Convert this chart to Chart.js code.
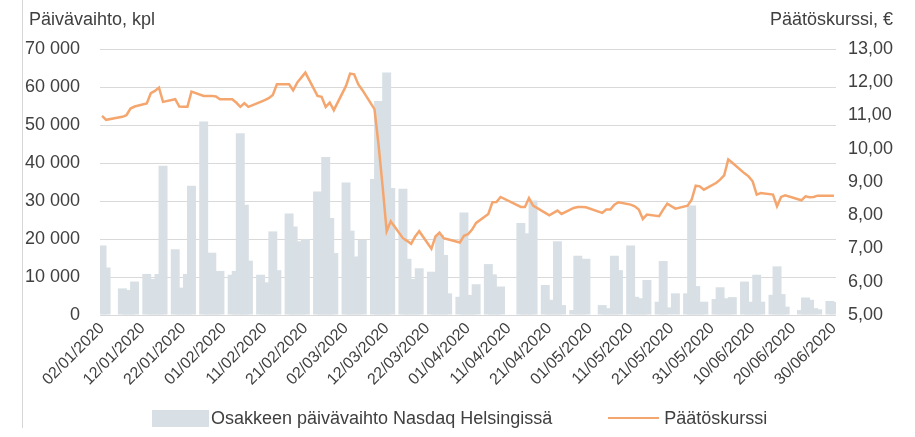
<!DOCTYPE html>
<html>
<head>
<meta charset="utf-8">
<script src="https://cdn.jsdelivr.net/npm/chart.js@4.4.0/dist/chart.umd.min.js"></script>
<style>
  body { margin: 0; background: #fff; }
  #wrap { position: relative; width: 915px; height: 437px; }
  .cap { position: absolute; top: 9px; font: 18px "Liberation Sans", Arial, sans-serif; color: #404040; white-space: nowrap; }
  #edge { position: absolute; left: 22px; top: 0; width: 0; height: 428px; border-left: 1px solid #d6d6d6; }
  #legend { position: absolute; left: 152px; top: 408px; height: 20px; display: flex; align-items: center;
            font: 18px "Liberation Sans", Arial, sans-serif; color: #404040; white-space: nowrap; }
  #legend .box { width: 57px; height: 17px; margin-right: 2px; }
  #legend .ln { width: 51px; height: 0; border-top: 2.5px solid; margin-left: 56px; margin-right: 5px; }
</style>
</head>
<body>
<div id="wrap">
  <canvas id="chart" width="915" height="437"></canvas>
  <div id="edge"></div>
  <div class="cap" style="left:29px">Päivävaihto, kpl</div>
  <div class="cap" style="right:22px">Päätöskurssi, €</div>
  <div id="legend"></div>
</div>
<script>
// trading days (dd/mm, 2020) with volume and closing price
const tradeDates = [
  '02/01','03/01','07/01','08/01','09/01','10/01','13/01','14/01','15/01','16/01','17/01',
  '20/01','21/01','22/01','23/01','24/01','27/01','28/01','29/01','30/01','31/01',
  '03/02','04/02','05/02','06/02','07/02','10/02','11/02','12/02','13/02','14/02',
  '17/02','18/02','19/02','20/02','21/02','24/02','25/02','26/02','27/02','28/02',
  '02/03','03/03','04/03','05/03','06/03','09/03','10/03','11/03','12/03','13/03',
  '16/03','17/03','18/03','19/03','20/03','23/03','24/03','25/03','26/03','27/03',
  '30/03','31/03','01/04','02/04','03/04','06/04','07/04','08/04','09/04',
  '14/04','15/04','16/04','17/04','20/04','21/04','22/04','23/04','24/04',
  '27/04','28/04','29/04','30/04','04/05','05/05','06/05','07/05','08/05',
  '11/05','12/05','13/05','14/05','15/05','18/05','19/05','20/05','22/05',
  '25/05','26/05','27/05','28/05','29/05','01/06','02/06','03/06','04/06','05/06',
  '08/06','09/06','10/06','11/06','12/06','15/06','16/06','17/06','18/06',
  '22/06','23/06','24/06','25/06','26/06','29/06','30/06'
];

const volume = [
  18300, 12500, 7000, 6600, 6400, 8800, 10800, 9500, 9000, 10800, 39300,
  17300, 7200, 6500, 10800, 34000, 50900, 15000, 16400, 11000, 11600,
  10600, 11600, 47800, 29000, 14300, 10600, 8600, 8200, 22000, 11800,
  26700, 23300, 19400, 19000, 20000, 32500, 28000, 41600, 25500, 16300,
  34900, 22200, 15400, 15000, 19800, 35800, 56300, 45000, 63800, 33400,
  33200, 14800, 9500, 9000, 12300, 11400, 10000, 21100, 15800, 5700,
  4800, 27000, 5300, 5000, 8100, 13400, 10700, 7000, 7500,
  24200, 21500, 20000, 30100, 7900, 4000, 3500, 19400, 2600,
  1300, 15600, 14000, 14800, 2600, 1800, 1500, 15600, 11800,
  18300, 4800, 4400, 4000, 9200, 3500, 14200, 2000, 5700,
  5700, 28800, 7600, 3000, 3500, 4200, 7300, 4400, 4000, 4700,
  8800, 3500, 3000, 10600, 3500, 5300, 12800, 5500, 2200,
  1300, 4600, 4000, 1800, 1500, 3700, 3400
];

const closePrice = [
  10.99, 10.87, 10.96, 11.01, 11.21, 11.27, 11.36, 11.67, 11.74, 11.84, 11.41,
  11.49, 11.27, 11.26, 11.26, 11.72, 11.59, 11.59, 11.59, 11.57, 11.49,
  11.49, 11.39, 11.26, 11.37, 11.26, 11.41, 11.46, 11.52, 11.62, 11.94,
  11.94, 11.76, 11.99, 12.14, 12.29, 11.59, 11.56, 11.26, 11.39, 11.16,
  11.89, 12.26, 12.24, 11.94, 11.77, 11.19, 10.12, 8.87, 7.52, 7.82,
  7.31, 7.23, 7.14, 7.36, 7.52, 6.99, 7.36, 7.48, 7.31, 7.28,
  7.18, 7.38, 7.43, 7.57, 7.77, 8.04, 8.39, 8.40, 8.55,
  8.25, 8.25, 8.52, 8.29, 8.07, 8.00, 8.07, 8.14, 8.04,
  8.22, 8.25, 8.25, 8.24, 8.07, 8.17, 8.17, 8.32, 8.39,
  8.32, 8.27, 8.17, 7.89, 8.02, 7.97, 8.17, 8.35, 8.20,
  8.29, 8.47, 8.89, 8.87, 8.77, 8.97, 9.07, 9.20, 9.68, 9.58,
  9.26, 9.17, 9.02, 8.62, 8.67, 8.62, 8.27, 8.55, 8.60,
  8.45, 8.57, 8.54, 8.55, 8.59, 8.59, 8.59
];

const volumeTicks = [0, 10000, 20000, 30000, 40000, 50000, 60000, 70000];
const priceTicks = [5, 6, 7, 8, 9, 10, 11, 12, 13];

// calendar axis: every day, weekends and holidays left empty
function pad(n) {
    return String(n).padStart(2, '0');
}
let labels = [];
let volData = [];
let priceData = [];
for (let d = new Date(2020, 0, 2); d <= new Date(2020, 5, 30); d.setDate(d.getDate() + 1)) {
    let key = pad(d.getDate()) + '/' + pad(d.getMonth() + 1);
    labels.push(key + '/2020');
    let k = tradeDates.indexOf(key);
    volData.push(k >= 0 ? volume[k] : null);
    priceData.push(k >= 0 ? closePrice[k] : null);
}

const textColor = '#404040';
const fontFamily = '"Liberation Sans", Arial, sans-serif';

const ctx = document.getElementById('chart');
const myChart = new Chart(ctx, {
    data: {
        labels: labels,
        datasets: [{
            type: 'line',
            label: 'Päätöskurssi',
            data: priceData,
            yAxisID: 'y1',
            borderColor: '#F5A66E',
            backgroundColor: '#F5A66E',
            borderWidth: 2.5,
            pointRadius: 0,
            spanGaps: true,
            tension: 0,
            order: 0
        }, {
            type: 'bar',
            label: 'Osakkeen päivävaihto Nasdaq Helsingissä',
            data: volData,
            yAxisID: 'y',
            backgroundColor: '#D8E0E5',
            categoryPercentage: 1.0,
            barPercentage: 2.2,
            order: 1
        }]
    },
    options: {
        responsive: false,
        animation: false,
        layout: { padding: { top: 49, left: 0, right: 0, bottom: 0 } },
        plugins: {
            tooltip: { enabled: false },
            legend: { display: false }
        },
        scales: {
            x: {
                offset: true,
                grid: { display: false, drawTicks: false },
                border: { display: false },
                ticks: {
                    autoSkip: false,
                    minRotation: 45,
                    maxRotation: 45,
                    padding: 4,
                    color: textColor,
                    font: { family: fontFamily, size: 16 },
                    callback: function (v, i) {
                        return i % 10 === 0 ? labels[i] : '';
                    }
                },
                afterFit: function (s) { s.height = 122; }
            },
            y: {
                position: 'left',
                min: 0,
                max: 70000,
                afterBuildTicks: function (s) { s.ticks = volumeTicks.map(v => ({ value: v })); },
                grid: { color: '#D9D9D9', lineWidth: 1, drawTicks: false },
                border: { display: false },
                ticks: {
                    padding: 20,
                    color: textColor,
                    font: { family: fontFamily, size: 18 },
                    callback: function (v) {
                        return v === 0 ? '0' : (v / 1000) + ' 000';
                    }
                },
                afterFit: function (s) { s.width = 100; }
            },
            y1: {
                position: 'right',
                min: 5,
                max: 13,
                afterBuildTicks: function (s) { s.ticks = priceTicks.map(v => ({ value: v })); },
                grid: { display: false, drawTicks: false },
                border: { display: false },
                ticks: {
                    padding: 12,
                    color: textColor,
                    font: { family: fontFamily, size: 18 },
                    callback: function (v) {
                        return v.toFixed(2).replace('.', ',');
                    }
                },
                afterFit: function (s) { s.width = 79; }
            }
        }
    }
});

// legend as html, bar item first then the line
let legend = document.getElementById('legend');
let barSet = myChart.data.datasets[1];
let lineSet = myChart.data.datasets[0];
legend.innerHTML =
    '<span class="box" style="background:' + barSet.backgroundColor + '"></span>' +
    '<span>' + barSet.label + '</span>' +
    '<span class="ln" style="border-color:' + lineSet.borderColor + '"></span>' +
    '<span>' + lineSet.label + '</span>';
</script>
</body>
</html>
